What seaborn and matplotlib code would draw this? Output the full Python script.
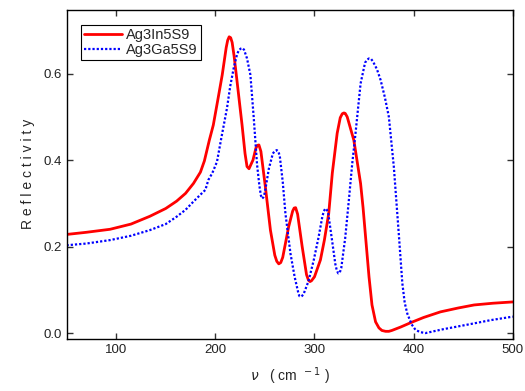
import matplotlib
matplotlib.use('Agg')
import matplotlib.pyplot as plt
import seaborn as sns

# Données (nombre d'onde en cm-1, réflectivité)
in_x = [50, 70, 94, 115, 134, 150, 161, 170, 178, 185, 189, 194, 198, 203, 207,
        211, 212.5, 214, 215.5, 217, 219, 222, 227, 230, 232, 234, 238, 241,
        242.5, 244, 246, 250.5, 255.6, 260, 262, 264, 266, 268, 274, 278, 279.5,
        281, 283, 287.6, 292, 294, 295.5, 297, 300, 306, 310, 314.4, 318, 322.9,
        326, 328, 329.6, 331, 333, 339.7, 346.5, 349, 352, 355, 358, 361.6, 365,
        368, 371.7, 375, 378, 387, 397, 410, 427, 445, 461, 480, 500]
in_y = [0.228, 0.233, 0.240, 0.252, 0.270, 0.288, 0.305, 0.323, 0.346, 0.372,
        0.398, 0.446, 0.481, 0.545, 0.597, 0.660, 0.677, 0.685, 0.683, 0.672,
        0.640, 0.581, 0.481, 0.415, 0.385, 0.380, 0.400, 0.428, 0.434, 0.435,
        0.420, 0.338, 0.238, 0.180, 0.166, 0.160, 0.163, 0.175, 0.246, 0.282,
        0.289, 0.290, 0.275, 0.200, 0.135, 0.122, 0.119, 0.121, 0.130, 0.169,
        0.215, 0.277, 0.370, 0.462, 0.498, 0.507, 0.509, 0.508, 0.500, 0.446,
        0.346, 0.290, 0.210, 0.130, 0.065, 0.026, 0.012, 0.006, 0.004, 0.004,
        0.006, 0.014, 0.024, 0.036, 0.049, 0.058, 0.065, 0.069, 0.072]

ga_x = [50, 70, 94, 115, 134, 150, 161, 170, 178, 185, 190, 193, 197, 201.7,
        206, 211.8, 215, 218.5, 222, 224, 226, 227.5, 229, 232, 235.4, 238.7,
        242.1, 244.5, 246, 247.2, 248.5, 250, 254, 258, 260, 262, 263.5, 265,
        268, 270.7, 275.8, 280, 284, 285, 286, 287.5, 289, 294, 299.3, 304, 308,
        309.5, 311, 312.5, 314, 318, 321, 322.5, 324, 325.5, 327, 331, 334.7,
        338, 341.4, 346.5, 351, 353, 355, 357, 359, 363, 366.7, 371, 375, 380,
        385, 388.6, 391, 393.6, 398, 402, 407, 412, 420, 430, 444, 460, 478, 500]
ga_y = [0.203, 0.207, 0.215, 0.225, 0.238, 0.252, 0.269, 0.285, 0.304, 0.320,
        0.331, 0.354, 0.370, 0.396, 0.450, 0.520, 0.570, 0.612, 0.645, 0.655,
        0.658, 0.659, 0.655, 0.635, 0.597, 0.500, 0.390, 0.340, 0.318, 0.311,
        0.314, 0.325, 0.380, 0.415, 0.421, 0.423, 0.420, 0.410, 0.350, 0.277,
        0.184, 0.130, 0.090, 0.085, 0.084, 0.086, 0.090, 0.120, 0.169, 0.220,
        0.270, 0.282, 0.288, 0.285, 0.275, 0.210, 0.160, 0.145, 0.138, 0.140,
        0.150, 0.220, 0.308, 0.390, 0.462, 0.577, 0.625, 0.632, 0.635, 0.634,
        0.628, 0.610, 0.585, 0.545, 0.500, 0.385, 0.230, 0.115, 0.070, 0.045,
        0.020, 0.007, 0.002, 0.000, 0.004, 0.009, 0.015, 0.022, 0.030, 0.038]

x_ticks = [100, 200, 300, 400, 500]
y_ticks = [0.0, 0.2, 0.4, 0.6]

sns.set_style('ticks')
plt.rcParams['font.family'] = ['Liberation Sans', 'DejaVu Sans']
plt.rcParams['xtick.direction'] = 'in'
plt.rcParams['ytick.direction'] = 'in'

fig = plt.figure(figsize=(5.25, 3.91), dpi=100)
ax = fig.add_axes([0.1267, 0.1338, 0.8501, 0.8406])

sns.lineplot(x=in_x, y=in_y, ax=ax, color='#ff0000', linewidth=2.0,
             label='Ag3In5S9', sort=False)
sns.lineplot(x=ga_x, y=ga_y, ax=ax, color='#0000ff', linewidth=1.6,
             linestyle=(0, (1, 0.9)), label='Ag3Ga5S9', sort=False)

ax.set_xlim(50, 500)
ax.set_ylim(-0.013, 0.747)
ax.set_xticks(x_ticks)
ax.set_yticks(y_ticks)
ax.set_yticklabels([f'{v:.1f}' for v in y_ticks])
ax.tick_params(axis='both', which='major', labelsize=9.5, length=4, width=1,
               top=True, right=True, color='#333333', labelcolor='#222222')
for s in ax.spines.values():
    s.set_color('black')
    s.set_linewidth(1.0)

ax.set_ylabel('R e f l e c t i v i t y', fontsize=10)
ax.yaxis.set_label_coords(-0.07, 0.5)
ax.set_xlabel(r'$\nu$   ( cm $^{\,-1}$ )', fontsize=10)
ax.xaxis.set_label_coords(0.5, -0.082)

leg = ax.legend(loc='upper left', bbox_to_anchor=(0.032, 0.955),
                borderaxespad=0, fancybox=False, framealpha=1,
                edgecolor='black', fontsize=10.5, handlelength=2.6,
                handletextpad=0.3, borderpad=0.2, labelspacing=0.1)
leg.get_frame().set_linewidth(0.8)

plt.savefig('out.png', dpi=100)
